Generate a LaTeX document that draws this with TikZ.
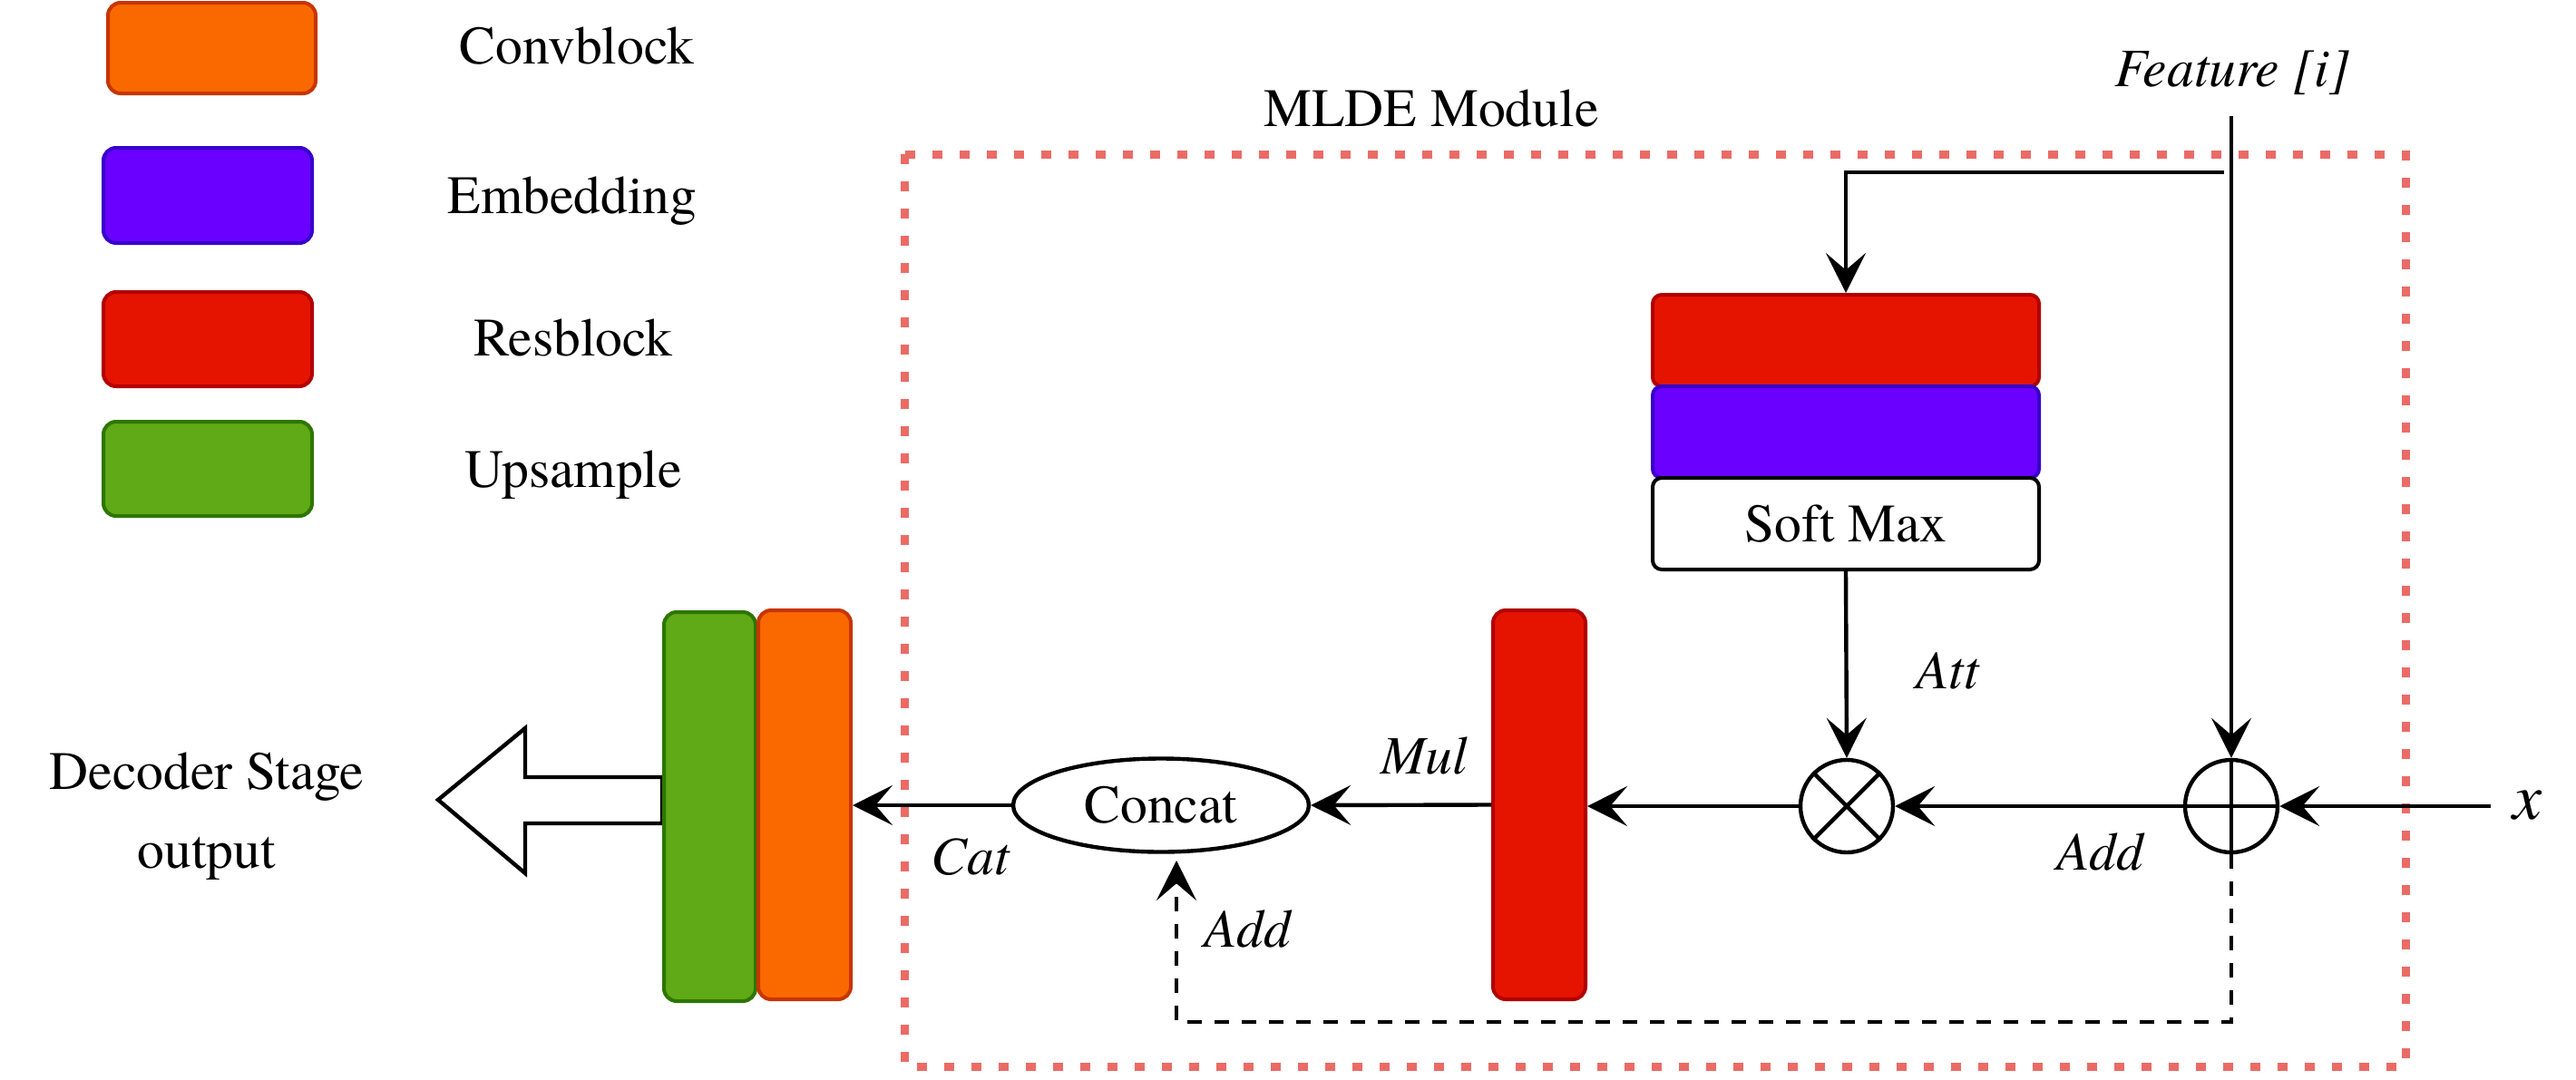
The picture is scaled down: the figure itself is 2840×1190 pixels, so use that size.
\documentclass[tikz,border=0pt]{standalone}
\usepackage{fontspec}
\setmainfont{texgyretermes}[Extension=.otf, UprightFont=*-regular, ItalicFont=*-italic, BoldFont=*-bold, BoldItalicFont=*-bolditalic]
\usetikzlibrary{shapes.geometric,arrows.meta}
\definecolor{orF}{HTML}{FA6800}
\definecolor{orD}{HTML}{C73500}
\definecolor{puF}{HTML}{6A00FF}
\definecolor{puD}{HTML}{3700CC}
\definecolor{reF}{HTML}{E51400}
\definecolor{reD}{HTML}{B20000}
\definecolor{grF}{HTML}{60A917}
\definecolor{grD}{HTML}{2D7600}
\definecolor{mlde}{HTML}{EA6B66}
\begin{document}
\begin{tikzpicture}[x=0.25pt,y=-0.25pt,
  lbl/.style={font=\fontsize{14.9}{18}\selectfont, anchor=base, inner sep=0},
  ilbl/.style={lbl, font=\fontsize{14.9}{18}\selectfont\itshape},
  conn/.style={line width=1.1pt, -{Stealth[length=11pt,width=11pt,inset=4.7pt]}},
  blk/.style={line width=1pt, rounded corners=3.5pt, inner sep=0, minimum width=57.5pt, minimum height=26pt},
  opcirc/.style={circle, draw, line width=1.1pt, minimum size=25.5pt, inner sep=0, fill=white},
  dashconn/.style={conn, dash pattern=on 4pt off 3.5pt}]
\useasboundingbox (0,0) rectangle (2840,1190);

% MLDE module frame
\draw[mlde, line width=2.25pt, dash pattern=on 2.75pt off 4.75pt] (997,170) rectangle (2652,1176);
\node[lbl] (tmlde) at (1578,139) {MLDE Module};

% legend
\node[blk, fill=orF, draw=orD, minimum width=57.25pt, minimum height=25pt] (lconv) at (233.5,53) {};
\node[blk, fill=puF, draw=puD, minimum height=26.25pt] (lemb) at (229,215.5) {};
\node[blk, fill=reF, draw=reD] (lres) at (229,374) {};
\node[blk, fill=grF, draw=grD] (lup) at (229,517) {};
\node[lbl] (tconv) at (636,70) {Convblock};
\node[lbl] (temb) at (631,235) {Embedding};
\node[lbl] (tres) at (632,392) {Resblock};
\node[lbl] (tup) at (632,537) {Upsample};

% attention stack
\node[blk, fill=reF, draw=reD, minimum width=106.5pt, minimum height=25.25pt, rounded corners=2.5pt] (sres) at (2035,375.5) {};
\node[blk, fill=puF, draw=puD, minimum width=106.5pt, minimum height=25.25pt, rounded corners=2.5pt] (semb) at (2035,476.5) {};
\node[blk, fill=white, draw=black, minimum width=106.5pt, minimum height=25.25pt, rounded corners=2.5pt, font=\fontsize{14.9}{18}\selectfont] (smax) at (2035,577.5) {Soft Max};

% operators
\node[opcirc] (mul) at (2036,889) {};
\draw[line width=1.1pt] (mul.45) -- (mul.225) (mul.135) -- (mul.315);
\node[opcirc] (add) at (2460,889) {};
\draw[line width=1.1pt] (add.north) -- (add.south) (add.west) -- (add.east);

% main path blocks
\node[blk, fill=reF, draw=reD, minimum width=25.5pt, minimum height=107.25pt] (rbar) at (1697,887.5) {};
\node[ellipse, draw, line width=1.1pt, minimum width=81.5pt, minimum height=25.75pt, inner sep=0, font=\fontsize{14.9}{18}\selectfont] (cc) at (1280,888) {Concat};

% output arrow and output blocks
\draw[line width=1.1pt, fill=white] (730,857) -- (579,857) -- (579,803) -- (483,882) -- (579,963) -- (579,908) -- (730,908) -- cycle;
\node[blk, fill=grF, draw=grD, minimum width=25.25pt, minimum height=107.25pt] (gbar) at (782.5,889.5) {};
\node[blk, fill=orF, draw=orD, minimum width=25.5pt, minimum height=107.25pt] (obar) at (887,887.5) {};
\node[lbl] (tdec1) at (228,870) {Decoder Stage};
\node[lbl] (tdec2) at (228,957) {output};

% coordinates
\coordinate (fin) at (2460,128);
\coordinate (fbr) at (2452,190);
\coordinate (xin) at (2746,889);
\coordinate (d1) at (2460,1127);
\coordinate (d2) at (1297,1127);
\coordinate (d3) at (1297,949);

% connectors
\draw[conn] (fin) -- (add.north);
\draw[conn] (fbr) -| (sres.north);
\draw[conn] (smax.south) -- (mul.north);
\draw[conn] (xin) -- (add.east);
\draw[conn] (add.west) -- (mul.east);
\draw[conn] (mul.west) -- (mul.west -| rbar.east);
\draw[conn] (rbar.west) -- (cc.east);
\draw[conn] (cc.west) -- (cc.west -| obar.east);
\draw[dashconn] (add.south) -- (d1) -- (d2) -- (d3);

% labels
\node[ilbl] (tfeat) at (2461,95) {Feature [i]};
\node[ilbl] (tatt) at (2147,759) {Att};
\node[ilbl] (tadd1) at (2315,959) {Add};
\node[ilbl, font=\fontsize{18}{21}\selectfont\itshape] (tx) at (2786,903) {x};
\node[ilbl] (tmul) at (1570,853) {Mul};
\node[ilbl] (tcat) at (1070,964) {Cat};
\node[ilbl] (tadd2) at (1375,1044) {Add};
\end{tikzpicture}
\end{document}
